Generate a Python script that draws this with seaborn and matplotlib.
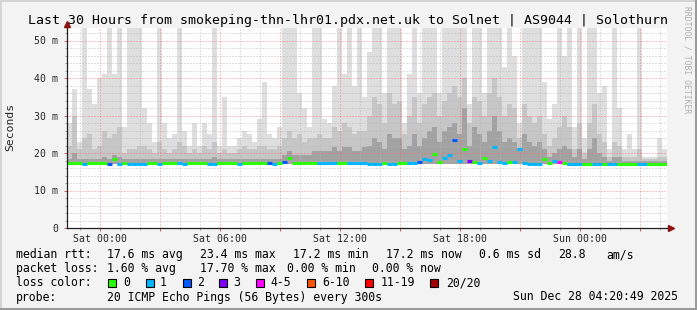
import numpy as np
import pandas as pd
import matplotlib
matplotlib.use("Agg")
import matplotlib.pyplot as plt
from matplotlib.lines import Line2D
from matplotlib.patches import Rectangle
from matplotlib.ticker import MultipleLocator, FuncFormatter
import seaborn as sns

# ---------------- data ----------------
# 120 bins of 15 minutes, hours relative to Sat 00:00
start_hour = -1.653
bin_hours = 0.25

smoke_hi = [28, 37, 23, 54, 37, 33, 40, 41, 54, 41, 54, 27, 54, 54, 54, 32, 28, 23, 54, 28,
            24, 25, 54, 26, 22, 28, 22, 28, 25, 54,
            22, 35, 22, 22, 24, 26, 25, 23, 29, 39, 25, 24, 27, 54, 54, 54, 36, 32, 27, 54,
            54, 29, 28, 38, 54, 41, 54, 38, 54, 35,
            47, 54, 54, 36, 54, 54, 54, 28, 41, 54, 36, 54, 54, 54, 36, 54, 54, 54, 54, 54,
            33, 54, 54, 36, 54, 54, 54, 43, 54, 46,
            28, 54, 54, 54, 54, 39, 29, 33, 54, 46, 54, 27, 54, 24, 54, 54, 36, 38, 21, 54,
            32, 21, 25, 21, 54, 19, 19, 19, 24, 21]

smoke_mid = [22, 30, 21, 24, 25, 21, 22, 26, 24, 25, 27, 20, 21, 21, 22, 22, 21, 20, 23, 21,
             20, 21, 23, 22, 20, 21, 20, 22, 21, 23,
             20, 21, 20, 20, 21, 22, 21, 21, 22, 22, 21, 21, 22, 24, 26, 24, 25, 23, 24, 24,
             25, 24, 24, 27, 26, 28, 27, 25, 26, 26,
             30, 35, 33, 28, 36, 33, 34, 25, 30, 35, 28, 33, 35, 36, 30, 34, 36, 38, 35, 40,
             28, 35, 34, 30, 36, 40, 35, 30, 33, 32,
             24, 33, 30, 28, 30, 25, 22, 24, 27, 30, 27, 21, 28, 20, 28, 33, 25, 23, 19, 23,
             22, 19, 19, 19, 21, 18.5, 18.5, 18.5, 19, 19]

smoke_lo = [18.5, 20, 18.5, 18.5, 18.5, 18.5, 18.5, 19, 18.5, 19.5, 19, 18.5, 18.5, 18.5, 18.5, 18.5, 18.5, 18.5, 18.5, 18.5,
            18.5, 18.5, 18.5, 18.5, 18.5, 18.5, 18.5, 18.5, 18.5, 19,
            18.5, 18.5, 18.5, 18.5, 18.5, 18.5, 18.5, 18.5, 18.5, 18.5, 18.5, 18.5, 18.5, 19.5, 20.5, 19.5, 19.5, 19.5, 19.5, 20.5,
            20.5, 20.5, 20.5, 21.5, 20.5, 21.5, 21.5, 20.5, 20.5, 21.5,
            22, 24, 23, 21, 25, 24, 24, 21, 22, 25, 22, 24, 26, 27, 23, 26, 27, 28, 25, 32,
            22, 27, 25, 23, 26, 30, 26, 23, 24, 23,
            21, 25, 23, 22, 23, 21, 19, 20, 21, 22, 21, 19, 21, 18.5, 21, 24, 20, 19, 18, 19,
            19, 18, 18, 18, 18, 18, 18, 18, 18, 18]

median_ms = [17.3, 17.3, 17.3, 17.2, 17.3, 17.3, 17.3, 17.3, 17.2, 18.4,
             17.2, 17.3, 17.2, 17.2, 17.2, 17.2, 17.3, 17.3, 17.2, 17.3,
             17.3, 17.3, 17.3, 17.2, 17.3, 17.3, 17.3, 17.3, 17.2, 17.2,
             17.3, 17.3, 17.3, 17.4, 17.2, 17.3, 17.3, 17.3, 17.4, 17.4,
             17.3, 17.2, 17.4, 17.6, 18.8, 17.4, 17.4, 17.4, 17.4, 17.4,
             17.3, 17.3, 17.3, 17.3, 17.4, 17.4, 17.3, 17.3, 17.3, 17.3,
             17.2, 17.2, 17.2, 17.4, 17.2, 17.2, 17.4, 17.4, 17.3, 17.4,
             17.7, 18.3, 18.2, 19.8, 17.6, 18.8, 19.4, 23.4, 18.0, 21.1,
             17.8, 17.5, 17.4, 18.8, 18.0, 21.5, 17.6, 17.4, 17.6, 17.6,
             21.1, 17.4, 17.2, 17.2, 17.2, 18.5, 17.4, 18.0, 17.6, 17.4,
             17.1, 17.1, 17.1, 17.2, 17.2, 17.1, 17.1, 17.2, 17.1, 17.1,
             17.1, 17.1, 17.1, 17.1, 17.0, 17.0, 17.1, 17.1, 17.1, 17.0]

loss_count = [0, 0, 0, 1, 0, 0, 0, 0, 2, 0, 1, 0, 1, 1, 1, 1, 0, 0, 1, 0,
              0, 0, 1, 1, 0, 0, 0, 0, 1, 1,
              0, 0, 0, 0, 1, 0, 0, 0, 0, 0, 2, 1, 0, 2, 0, 0, 0, 0, 0, 0,
              1, 1, 1, 1, 0, 0, 1, 1, 1, 1,
              1, 1, 1, 0, 1, 1, 0, 0, 1, 1, 2, 1, 1, 0, 0, 1, 1, 2, 1, 0,
              3, 0, 1, 0, 1, 1, 1, 1, 0, 1,
              1, 1, 1, 1, 1, 0, 0, 1, 4, 0, 1, 1, 1, 0, 0, 1, 1, 0, 1, 1,
              0, 0, 0, 0, 1, 1, 0, 0, 0, 0]

tick_hours = [0, 6, 12, 18, 24]
tick_labels = ["Sat 00:00", "Sat 06:00", "Sat 12:00", "Sat 18:00", "Sun 00:00"]

loss_colors = {0: "#26ff00", 1: "#00b8ff", 2: "#0059ff", 3: "#7e00ff", 4: "#ff00ff"}
legend_labels = ["0", "1", "2", "3", "4-5", "6-10", "11-19", "20/20"]
legend_colors = ["#26ff00", "#00b8ff", "#0059ff", "#7e00ff", "#ff00ff", "#ff5500", "#ff0000", "#a10000"]

title = "Last 30 Hours from smokeping-thn-lhr01.pdx.net.uk to Solnet | AS9044 | Solothurn"

# ---------------- figure ----------------
sns.set_theme(style="white")
plt.rcParams["font.family"] = ["DejaVu Sans Mono"]

W, H = 697, 310
fig = plt.figure(figsize=(W / 100, H / 100), dpi=100)
fig.patch.set_facecolor("#f3f3f3")
ax = fig.add_axes([67 / W, 82 / H, 600 / W, 200 / H])
ax.set_facecolor("white")

n = len(smoke_hi)
t = start_hour + bin_hours * (np.arange(n) + 0.5)
df = pd.DataFrame({"t": t, "hi": smoke_hi, "mid": smoke_mid, "lo": smoke_lo,
                   "med": median_ms, "loss": loss_count})
# white floor below the median line (spikes do not lift the floor)
df["base"] = np.minimum(df["med"], 17.4) - 0.45

for col, colr in [("hi", "#dedede"), ("mid", "#c6c6c6"), ("lo", "#a2a2a2"), ("base", "white")]:
    sns.barplot(data=df, x="t", y=col, native_scale=True, color=colr, saturation=1,
                width=1, linewidth=0, errorbar=None, ax=ax, antialiased=False)

# median line coloured by loss
ax.hlines(df["med"], df["t"] - bin_hours / 2, df["t"] + bin_hours / 2,
          colors=[loss_colors[v] for v in df["loss"]], linewidth=2.2, zorder=3,
          capstyle="butt")

ax.set_xlim(start_hour, start_hour + 30)
ax.set_ylim(0, 200 / 3.75)
ax.set_xlabel("")
ax.set_ylabel("")

# grid & ticks
lab = dict(zip(tick_hours, tick_labels))
ax.xaxis.set_major_locator(MultipleLocator(3))
ax.xaxis.set_minor_locator(MultipleLocator(1))
ax.xaxis.set_major_formatter(FuncFormatter(lambda v, p: lab.get(int(round(v)), "")))
ax.yaxis.set_major_locator(MultipleLocator(10))
ax.yaxis.set_minor_locator(MultipleLocator(2))
ax.yaxis.set_major_formatter(FuncFormatter(lambda v, p: "0" if v == 0 else f"{v:.0f} m"))
ax.set_axisbelow(False)
ax.grid(which="minor", color="#b8b8b8", linestyle=(0, (1, 2)), linewidth=0.72, alpha=0.9)
ax.grid(which="major", color="#ff6060", linestyle=(0, (1, 2)), linewidth=0.72, alpha=0.75)
ax.tick_params(axis="both", which="major", length=2.2, width=0.72, color="#d06060",
               labelsize=7.1, pad=2.0, direction="out", bottom=True, left=True)
ax.tick_params(axis="both", which="minor", length=1.5, width=0.72, color="#a0a0a0",
               direction="out", bottom=True, left=True)
ax.tick_params(axis="y", which="major", pad=4)
for s in ["top", "right"]:
    ax.spines[s].set_visible(False)
for s in ["left", "bottom"]:
    ax.spines[s].set_color("#202020")
    ax.spines[s].set_linewidth(0.9)
    ax.spines[s].set_zorder(5)

# axis extensions + arrows
ax.plot([0, 0], [1, 1.025], transform=ax.transAxes, color="#202020", lw=0.9, clip_on=False)
ax.plot([1, 1.006], [0, 0], transform=ax.transAxes, color="#202020", lw=0.9, clip_on=False)
ax.plot([0], [1.022], marker="^", ms=4, color="#901010", transform=ax.transAxes, clip_on=False)
ax.plot([1.006], [0], marker=">", ms=4, color="#901010", transform=ax.transAxes, clip_on=False)

# texts
def fy(y):
    return 1 - y / H

fig.text(348 / W, fy(24), title, ha="center", va="baseline", fontsize=9.55, color="black")
fig.text(10 / W, fy(127), "Seconds", rotation=90, ha="center", va="center", fontsize=8.2)
fig.text(687 / W, fy(60), "RRDTOOL / TOBI OETIKER", rotation=270, ha="center", va="center",
         fontsize=5.8, color="#b0b0b0")

fs = 8.3
rows = [
    (258, [(16, "median rtt:"), (107.3, "17.6 ms avg"), (200, "23.4 ms max"),
           (293.3, "17.2 ms min"), (386, "17.2 ms now"), (479.3, "0.6 ms sd"),
           (558.3, "28.8"), (606.7, "am/s")]),
    (272.2, [(16, "packet loss:"), (107.3, "1.60 % avg"), (200, "17.70 % max"),
             (286.7, "0.00 % min"), (371.7, "0.00 % now")]),
    (286.3, [(16, "loss color:")]),
    (300.5, [(16, "probe:"), (107.3, "20 ICMP Echo Pings (56 Bytes) every 300s"),
             (513.3, "Sun Dec 28 04:20:49 2025")]),
]
for yb, items in rows:
    for x, s in items:
        fig.text(x / W, fy(yb), s, ha="left", va="baseline", fontsize=fs, color="black")

box_x = [108, 145.7, 182.7, 219, 256, 306.7, 365, 430]
lab_x = [123.3, 160, 197, 233, 270, 322, 380.7, 446]
for bx, lx, c, s in zip(box_x, lab_x, legend_colors, legend_labels):
    fig.add_artist(Rectangle((bx / W, fy(286.5)), 8 / W, 8 / H, transform=fig.transFigure,
                             facecolor=c, edgecolor="black", linewidth=0.8))
    fig.text(lx / W, fy(286.3), s, ha="left", va="baseline", fontsize=fs, color="black")

# frame border (3D style)
fig.add_artist(Line2D([0, 1], [1 - 1 / H, 1 - 1 / H], transform=fig.transFigure, color="#d4d4d4", lw=1.44))
fig.add_artist(Line2D([1 / W, 1 / W], [0, 1], transform=fig.transFigure, color="#d4d4d4", lw=1.44))
fig.add_artist(Line2D([0, 1], [1 / H, 1 / H], transform=fig.transFigure, color="#9a9a9a", lw=1.44))
fig.add_artist(Line2D([1 - 1 / W, 1 - 1 / W], [0, 1], transform=fig.transFigure, color="#9a9a9a", lw=1.44))

fig.savefig("out.png", dpi=100, facecolor=fig.get_facecolor())
